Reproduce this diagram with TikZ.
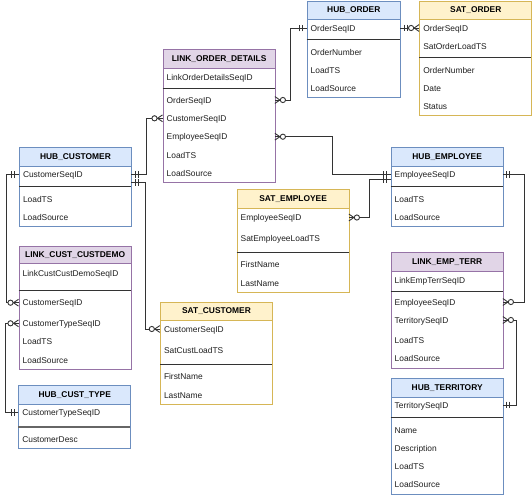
\documentclass[tikz,border=0pt]{standalone}
\usepackage{fontspec}
\setmainfont{Liberation Sans}
\definecolor{blueF}{HTML}{DAE8FC}
\definecolor{blueD}{HTML}{6C8EBF}
\definecolor{yelF}{HTML}{FFF2CC}
\definecolor{yelD}{HTML}{D6B656}
\definecolor{purF}{HTML}{E1D5E7}
\definecolor{purD}{HTML}{9673A6}
\definecolor{lineC}{HTML}{333333}
\tikzset{
  tbox/.style={rectangle, line width=0.9pt, fill=white, anchor=north west, inner sep=0pt},
  hdr/.style={rectangle, line width=0.9pt, anchor=north west, inner sep=0pt, font=\fontsize{8.4}{10}\selectfont\bfseries},
  row/.style={inner xsep=4pt, inner ysep=0pt, align=left, text height=6pt, text depth=0pt, font=\fontsize{8.4}{10}\selectfont, text=black!88},
  rowA/.style={row, text width=104pt},
  rowB/.style={row, text width=85.3pt},
  sepl/.style={draw=black!80, line width=0.9pt},
  conn/.style={draw=lineC, line width=0.9pt},
  mandone/.pic={\draw[conn] (4,-3.3)--(4,3.3) (7,-3.3)--(7,3.3);},
  zeromany/.pic={\draw[conn] (0,-3.4)--(5,0)--(0,3.4); \draw[conn, fill=white] (8,0) circle (2.6pt);}
}
\begin{document}
\begin{tikzpicture}[x=1pt,y=-1pt]
\useasboundingbox (0,0) rectangle (532,496);

% HUB_ORDER
\node[tbox, draw=blueD, minimum width=93.3, minimum height=96] (hoB) at (306.7,1) {};
\node[hdr, fill=blueF, draw=blueD, minimum width=93.3, minimum height=17.5] (hoH) at (306.7,1) {HUB\_ORDER};
\draw[sepl] (306.7,39.5) -- (400,39.5);
\node[rowB] (ho1) at (353.35,28) {OrderSeqID};
\node[rowB] (ho2) at (353.35,52) {OrderNumber};
\node[rowB] (ho3) at (353.35,70) {LoadTS};
\node[rowB] (ho4) at (353.35,88) {LoadSource};

% SAT_ORDER
\node[tbox, draw=yelD, minimum width=112, minimum height=114] (soB) at (419.3,1) {};
\node[hdr, fill=yelF, draw=yelD, minimum width=112, minimum height=17.5] (soH) at (419.3,1) {SAT\_ORDER};
\draw[sepl] (419.3,57.7) -- (531.3,57.7);
\node[rowA] (so1) at (475.3,28) {OrderSeqID};
\node[rowA] (so2) at (475.3,46) {SatOrderLoadTS};
\node[rowA] (so3) at (475.3,70) {OrderNumber};
\node[rowA] (so4) at (475.3,88) {Date};
\node[rowA] (so5) at (475.3,106) {Status};

% LINK_ORDER_DETAILS
\node[tbox, draw=purD, minimum width=112, minimum height=133] (lodB) at (162.7,49.3) {};
\node[hdr, fill=purF, draw=purD, minimum width=112, minimum height=18.4] (lodH) at (162.7,49.3) {LINK\_ORDER\_DETAILS};
\draw[sepl] (162.7,88.7) -- (274.7,88.7);
\node[rowA] (lod0) at (218.7,77) {LinkOrderDetailsSeqID};
\node[rowA] (lod1) at (218.7,100) {OrderSeqID};
\node[rowA] (lod2) at (218.7,118.3) {CustomerSeqID};
\node[rowA] (lod3) at (218.7,136.7) {EmployeeSeqID};
\node[rowA] (lod4) at (218.7,155) {LoadTS};
\node[rowA] (lod5) at (218.7,173.3) {LoadSource};

% HUB_CUSTOMER
\node[tbox, draw=blueD, minimum width=112, minimum height=78.4] (hcB) at (19,147.3) {};
\node[hdr, fill=blueF, draw=blueD, minimum width=112, minimum height=18.4] (hcH) at (19,147.3) {HUB\_CUSTOMER};
\draw[sepl] (19,186.7) -- (131,186.7);
\node[rowA] (hc1) at (75,174.7) {CustomerSeqID};
\node[rowA] (hc2) at (75,199) {LoadTS};
\node[rowA] (hc3) at (75,217) {LoadSource};

% LINK_CUST_CUSTDEMO
\node[tbox, draw=purD, minimum width=112, minimum height=123] (lccB) at (18.7,245.7) {};
\node[hdr, fill=purF, draw=purD, minimum width=112, minimum height=17.6] (lccH) at (18.7,245.7) {LINK\_CUST\_CUSTDEMO};
\draw[sepl] (18.7,290.3) -- (130.7,290.3);
\node[rowA] (lcc0) at (74.7,273) {LinkCustCustDemoSeqID};
\node[rowA] (lcc1) at (74.7,302.7) {CustomerSeqID};
\node[rowA] (lcc2) at (74.7,323.3) {CustomerTypeSeqID};
\node[rowA] (lcc3) at (74.7,341.7) {LoadTS};
\node[rowA] (lcc4) at (74.7,360) {LoadSource};

% SAT_CUSTOMER
\node[tbox, draw=yelD, minimum width=112, minimum height=102.3] (scB) at (160,301.7) {};
\node[hdr, fill=yelF, draw=yelD, minimum width=112, minimum height=18.3] (scH) at (160,301.7) {SAT\_CUSTOMER};
\draw[sepl] (160,364.3) -- (272,364.3);
\node[rowA] (sc1) at (216,329) {CustomerSeqID};
\node[rowA] (sc2) at (216,350) {SatCustLoadTS};
\node[rowA] (sc3) at (216,376.7) {FirstName};
\node[rowA] (sc4) at (216,395) {LastName};

% HUB_CUST_TYPE
\node[tbox, draw=blueD, minimum width=112, minimum height=63] (hctB) at (18.3,384.7) {};
\node[hdr, fill=blueF, draw=blueD, minimum width=112, minimum height=19] (hctH) at (18.3,384.7) {HUB\_CUST\_TYPE};
\draw[draw=black!60, line width=1.6pt] (18.3,426.7) -- (130.3,426.7);
\node[rowA] (hct1) at (74.3,412.7) {CustomerTypeSeqID};
\node[rowA] (hct2) at (74.3,439) {CustomerDesc};

% SAT_EMPLOYEE
\node[tbox, draw=yelD, minimum width=112, minimum height=102.4] (seB) at (236.7,189.3) {};
\node[hdr, fill=yelF, draw=yelD, minimum width=112, minimum height=18.4] (seH) at (236.7,189.3) {SAT\_EMPLOYEE};
\draw[sepl] (236.7,252.3) -- (348.7,252.3);
\node[rowA] (se1) at (292.7,217.5) {EmployeeSeqID};
\node[rowA] (se2) at (292.7,238.3) {SatEmployeeLoadTS};
\node[rowA] (se3) at (292.7,264.7) {FirstName};
\node[rowA] (se4) at (292.7,283) {LastName};

% HUB_EMPLOYEE
\node[tbox, draw=blueD, minimum width=112, minimum height=78.7] (heB) at (390.7,147.3) {};
\node[hdr, fill=blueF, draw=blueD, minimum width=112, minimum height=18.4] (heH) at (390.7,147.3) {HUB\_EMPLOYEE};
\draw[sepl] (390.7,186.7) -- (502.7,186.7);
\node[rowA] (he1) at (446.7,174.7) {EmployeeSeqID};
\node[rowA] (he2) at (446.7,199) {LoadTS};
\node[rowA] (he3) at (446.7,217) {LoadSource};

% LINK_EMP_TERR
\node[tbox, draw=purD, minimum width=112, minimum height=115.4] (letB) at (390.7,252.3) {};
\node[hdr, fill=purF, draw=purD, minimum width=112, minimum height=18.4] (letH) at (390.7,252.3) {LINK\_EMP\_TERR};
\draw[sepl] (390.7,291.7) -- (502.7,291.7);
\node[rowA] (let0) at (446.7,280) {LinkEmpTerrSeqID};
\node[rowA] (let1) at (446.7,302) {EmployeeSeqID};
\node[rowA] (let2) at (446.7,320) {TerritorySeqID};
\node[rowA] (let3) at (446.7,340) {LoadTS};
\node[rowA] (let4) at (446.7,358) {LoadSource};

% HUB_TERRITORY
\node[tbox, draw=blueD, minimum width=112, minimum height=115.7] (htB) at (390.7,378.3) {};
\node[hdr, fill=blueF, draw=blueD, minimum width=112, minimum height=18.4] (htH) at (390.7,378.3) {HUB\_TERRITORY};
\draw[sepl] (390.7,417.7) -- (502.7,417.7);
\node[rowA] (ht1) at (446.7,405) {TerritorySeqID};
\node[rowA] (ht2) at (446.7,430) {Name};
\node[rowA] (ht3) at (446.7,448.3) {Description};
\node[rowA] (ht4) at (446.7,466.3) {LoadTS};
\node[rowA] (ht5) at (446.7,484.3) {LoadSource};

% connectors
\coordinate (heL2) at ([yshift=-4.6pt]he1.west);
\coordinate (hcR2) at ([yshift=-7.6pt]hc1.east);
\draw[conn] (ho1.west) -- ++(-15.7,0) |- (lod1.east);
\draw[conn] (ho1.east) -- (so1.west);
\draw[conn] (lod3.east) -- ++(57.6,0) |- (he1.west);
\draw[conn] (hc1.east) -- ++(15,0) |- (lod2.west);
\draw[conn] (hcR2) -- ++(14,0) |- (sc1.west);
\draw[conn] (hc1.west) -- ++(-12.3,0) |- (lcc1.west);
\draw[conn] (hct1.west) -- ++(-12.3,0) |- (lcc2.west);
\draw[conn] (heL2) -- ++(-20.7,0) |- (se1.east);
\draw[conn] (he1.east) -- ++(21.7,0) |- (let1.east);
\draw[conn] (let2.east) -- ++(13.3,0) |- (ht1.east);

% markers
\pic[rotate=180] at (ho1.west) {mandone};
\pic at (lod1.east) {zeromany};
\pic at (ho1.east) {mandone};
\pic[rotate=180] at (so1.west) {zeromany};
\pic at (lod3.east) {zeromany};
\pic[rotate=180] at (he1.west) {mandone};
\pic at (hc1.east) {mandone};
\pic[rotate=180] at (lod2.west) {zeromany};
\pic at (hcR2) {mandone};
\pic[rotate=180] at (sc1.west) {zeromany};
\pic[rotate=180] at (hc1.west) {mandone};
\pic[rotate=180] at (lcc1.west) {zeromany};
\pic[rotate=180] at (hct1.west) {mandone};
\pic[rotate=180] at (lcc2.west) {zeromany};
\pic[rotate=180] at (heL2) {mandone};
\pic at (se1.east) {zeromany};
\pic at (he1.east) {mandone};
\pic at (let1.east) {zeromany};
\pic at (let2.east) {zeromany};
\pic at (ht1.east) {mandone};
\end{tikzpicture}
\end{document}
